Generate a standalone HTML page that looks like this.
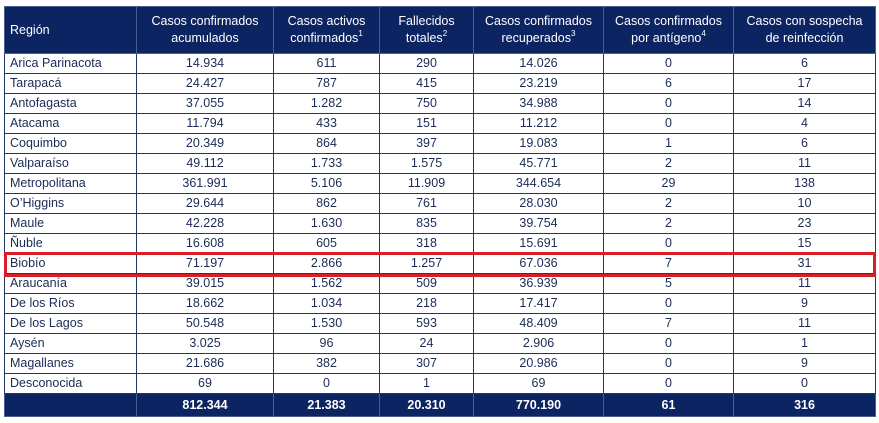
<!DOCTYPE html>
<html><head><meta charset="utf-8"><style>
body{margin:0;background:#fff;width:879px;height:423px;position:relative;font-family:"Liberation Sans",sans-serif;}
table{position:absolute;left:4px;top:6px;border-collapse:collapse;table-layout:fixed;width:871px;}
td,th{border:1px solid #203864;padding:0;font-size:12.5px;color:#1a2b55;text-align:center;height:19px;line-height:19px;white-space:nowrap;overflow:hidden;}
th{background:#0c2461;color:#fff;font-weight:normal;height:46px;line-height:17px;border-color:#4a5f8f;}
th.l,td.l{text-align:left;padding-left:5px;}
tr.tot td{background:#0c2461;color:#fff;font-weight:bold;height:22px;border-color:#4a5f8f;}
sup{font-size:8px;line-height:0;vertical-align:6px;}
#red{position:absolute;left:4px;top:252px;width:866px;height:19px;border:3px solid #d81f26;}
</style></head><body>
<table>
<colgroup><col style="width:132px"><col style="width:137px"><col style="width:106px"><col style="width:94px"><col style="width:130px"><col style="width:130px"><col style="width:142px"></colgroup>
<tr><th class="l">Región</th><th>Casos confirmados<br>acumulados</th><th>Casos activos<br>confirmados<sup>1</sup></th><th>Fallecidos<br>totales<sup>2</sup></th><th>Casos confirmados<br>recuperados<sup>3</sup></th><th>Casos confirmados<br>por antígeno<sup>4</sup></th><th>Casos con sospecha<br>de reinfección</th></tr>
<tr><td class="l">Arica Parinacota</td><td>14.934</td><td>611</td><td>290</td><td>14.026</td><td>0</td><td>6</td></tr>
<tr><td class="l">Tarapacá</td><td>24.427</td><td>787</td><td>415</td><td>23.219</td><td>6</td><td>17</td></tr>
<tr><td class="l">Antofagasta</td><td>37.055</td><td>1.282</td><td>750</td><td>34.988</td><td>0</td><td>14</td></tr>
<tr><td class="l">Atacama</td><td>11.794</td><td>433</td><td>151</td><td>11.212</td><td>0</td><td>4</td></tr>
<tr><td class="l">Coquimbo</td><td>20.349</td><td>864</td><td>397</td><td>19.083</td><td>1</td><td>6</td></tr>
<tr><td class="l">Valparaíso</td><td>49.112</td><td>1.733</td><td>1.575</td><td>45.771</td><td>2</td><td>11</td></tr>
<tr><td class="l">Metropolitana</td><td>361.991</td><td>5.106</td><td>11.909</td><td>344.654</td><td>29</td><td>138</td></tr>
<tr><td class="l">O’Higgins</td><td>29.644</td><td>862</td><td>761</td><td>28.030</td><td>2</td><td>10</td></tr>
<tr><td class="l">Maule</td><td>42.228</td><td>1.630</td><td>835</td><td>39.754</td><td>2</td><td>23</td></tr>
<tr><td class="l">Ñuble</td><td>16.608</td><td>605</td><td>318</td><td>15.691</td><td>0</td><td>15</td></tr>
<tr><td class="l">Biobío</td><td>71.197</td><td>2.866</td><td>1.257</td><td>67.036</td><td>7</td><td>31</td></tr>
<tr><td class="l">Araucanía</td><td>39.015</td><td>1.562</td><td>509</td><td>36.939</td><td>5</td><td>11</td></tr>
<tr><td class="l">De los Ríos</td><td>18.662</td><td>1.034</td><td>218</td><td>17.417</td><td>0</td><td>9</td></tr>
<tr><td class="l">De los Lagos</td><td>50.548</td><td>1.530</td><td>593</td><td>48.409</td><td>7</td><td>11</td></tr>
<tr><td class="l">Aysén</td><td>3.025</td><td>96</td><td>24</td><td>2.906</td><td>0</td><td>1</td></tr>
<tr><td class="l">Magallanes</td><td>21.686</td><td>382</td><td>307</td><td>20.986</td><td>0</td><td>9</td></tr>
<tr><td class="l">Desconocida</td><td>69</td><td>0</td><td>1</td><td>69</td><td>0</td><td>0</td></tr>
<tr class="tot"><td></td><td>812.344</td><td>21.383</td><td>20.310</td><td>770.190</td><td>61</td><td>316</td></tr>
</table>
<div id="red"></div>
</body></html>
